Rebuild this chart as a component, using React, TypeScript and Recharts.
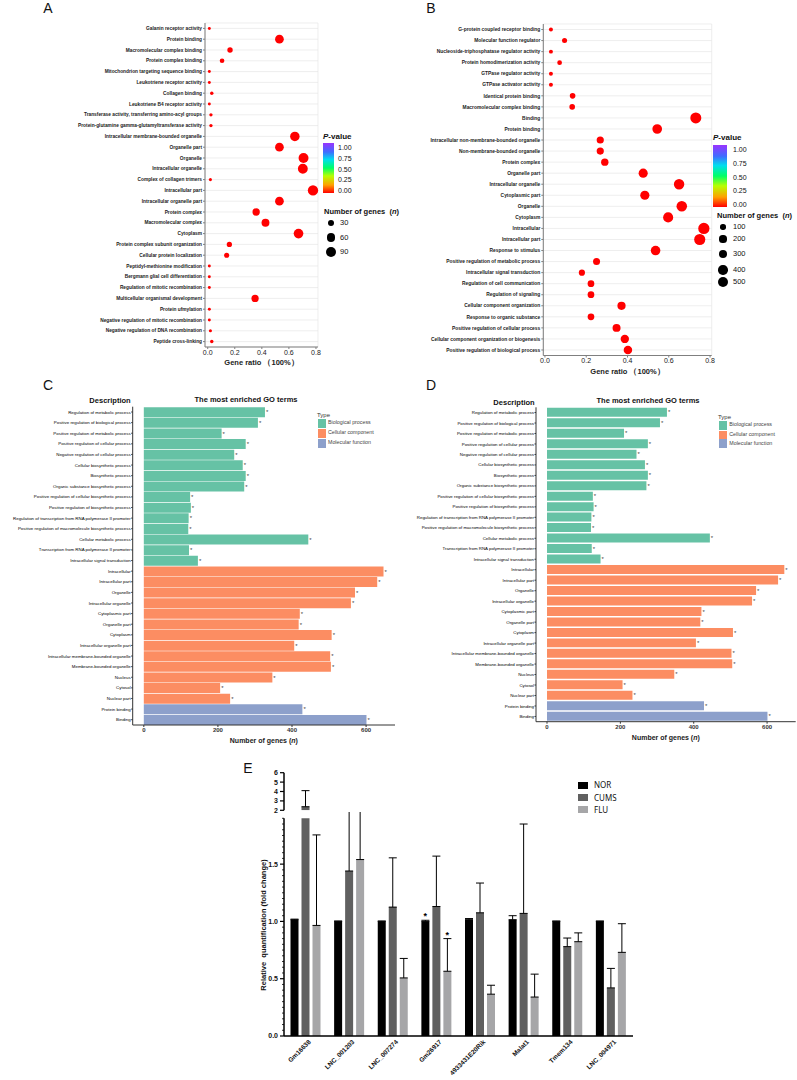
import React from 'react';
import {
  ScatterChart, Scatter, BarChart, Bar, XAxis, YAxis, ZAxis, CartesianGrid, Cell, LabelList, ErrorBar,
} from 'recharts';

const FONT = '"Liberation Sans", Arial, Helvetica, sans-serif';

// ---- Panel A: GO enrichment dot plot ----
const termsA = [
  'Galanin receptor activity',
  'Protein binding',
  'Macromolecular complex binding',
  'Protein complex binding',
  'Mitochondrion targeting sequence binding',
  'Leukotriene receptor activity',
  'Collagen binding',
  'Leukotriene B4 receptor activity',
  'Transferase activity, transferring amino-acyl groups',
  'Protein-glutamine gamma-glutamyltransferase activity',
  'Intracellular membrane-bounded organelle',
  'Organelle part',
  'Organelle',
  'Intracellular organelle',
  'Complex of collagen trimers',
  'Intracellular part',
  'Intracellular organelle part',
  'Protein complex',
  'Macromolecular complex',
  'Cytoplasm',
  'Protein complex subunit organization',
  'Cellular protein localization',
  'Peptidyl-methionine modification',
  'Bergmann glial cell differentiation',
  'Regulation of mitotic recombination',
  'Multicellular organismal development',
  'Protein ufmylation',
  'Negative regulation of mitotic recombination',
  'Negative regulation of DNA recombination',
  'Peptide cross-linking',
];
const ratioA = [0.012, 0.53, 0.165, 0.106, 0.012, 0.012, 0.03, 0.012, 0.024, 0.024, 0.644, 0.53, 0.708, 0.703, 0.02,
  0.778, 0.53, 0.358, 0.427, 0.671, 0.16, 0.14, 0.012, 0.012, 0.012, 0.35, 0.012, 0.012, 0.02, 0.03];
const genesA = [1, 64, 20, 13, 1, 1, 4, 1, 3, 3, 77, 64, 85, 84, 2, 93, 64, 43, 51, 80, 19, 17, 1, 1, 1, 42, 1, 1, 2, 4];
const sizeLegendA = [30, 60, 90];

// ---- Panel B ----
const termsB = [
  'G-protein coupled receptor binding',
  'Molecular function regulator',
  'Nucleoside-triphosphatase regulator activity',
  'Protein homodimerization activity',
  'GTPase regulator activity',
  'GTPase activator activity',
  'Identical protein binding',
  'Macromolecular complex binding',
  'Binding',
  'Protein binding',
  'Intracellular non-membrane-bounded organelle',
  'Non-membrane-bounded organelle',
  'Protein complex',
  'Organelle part',
  'Intracellular organelle',
  'Cytoplasmic part',
  'Organelle',
  'Cytoplasm',
  'Intracellular',
  'Intracellular part',
  'Response to stimulus',
  'Positive regulation of metabolic process',
  'Intracellular signal transduction',
  'Regulation of cell communication',
  'Regulation of signaling',
  'Cellular component organization',
  'Response to organic substance',
  'Positive regulation of cellular process',
  'Cellular component organization or biogenesis',
  'Positive regulation of biological process',
];
const ratioB = [0.029, 0.095, 0.029, 0.071, 0.029, 0.029, 0.134, 0.132, 0.731, 0.544, 0.268, 0.268, 0.29, 0.476, 0.65,
  0.484, 0.663, 0.597, 0.77, 0.75, 0.536, 0.25, 0.179, 0.223, 0.223, 0.371, 0.223, 0.347, 0.387, 0.402];
const genesB = [24, 78, 24, 59, 24, 24, 111, 109, 603, 449, 221, 221, 239, 393, 536, 399, 547, 493, 635, 619, 442, 206,
  148, 184, 184, 306, 184, 286, 319, 332];
const sizeLegendB = [100, 200, 300, 400, 500];

const ratioTicks = [0, 0.2, 0.4, 0.6, 0.8];
const ratioGrid = [0, 0.1, 0.2, 0.3, 0.4, 0.5, 0.6, 0.7, 0.8];
const pTicks = [1.0, 0.75, 0.5, 0.25, 0.0];

// ---- Panels C / D: most enriched GO terms ----
const goTerms = [
  'Regulation of metabolic process',
  'Positive regulation of biological process',
  'Positive regulation of metabolic process',
  'Positive regulation of cellular process',
  'Negative regulation of cellular process',
  'Cellular biosynthetic process',
  'Biosynthetic process',
  'Organic substance biosynthetic process',
  'Positive regulation of cellular biosynthetic process',
  'Positive regulation of biosynthetic process',
  'Regulation of transcription from RNA polymerase II promoter',
  'Positive regulation of macromolecule biosynthetic process',
  'Cellular metabolic process',
  'Transcription from RNA polymerase II promoter',
  'Intracellular signal transduction',
  'Intracellular',
  'Intracellular part',
  'Organelle',
  'Intracellular organelle',
  'Cytoplasmic part',
  'Organelle part',
  'Cytoplasm',
  'Intracellular organelle part',
  'Intracellular membrane-bounded organelle',
  'Membrane-bounded organelle',
  'Nucleus',
  'Cytosol',
  'Nuclear part',
  'Protein binding',
  'Binding',
];
const goTypes = ['BP', 'BP', 'BP', 'BP', 'BP', 'BP', 'BP', 'BP', 'BP', 'BP', 'BP', 'BP', 'BP', 'BP', 'BP',
  'CC', 'CC', 'CC', 'CC', 'CC', 'CC', 'CC', 'CC', 'CC', 'CC', 'CC', 'CC', 'CC', 'MF', 'MF'];
const goCounts = [327, 308, 210, 275, 244, 267, 275, 271, 125, 127, 121, 120, 444, 122, 146,
  647, 630, 570, 559, 421, 418, 507, 406, 503, 505, 347, 206, 233, 428, 601];
const typeNames = ['Biological process', 'Cellular component', 'Molecular function'];
const typeKeys = ['BP', 'CC', 'MF'];
const typeColors: Record<string, string> = { BP: '#66c2a5', CC: '#fc8d62', MF: '#8da0cb' };
const countTicks = [0, 200, 400, 600];

// ---- Panel E: qPCR ----
const genesE = ['Gm16638', 'LNC_001203', 'LNC_007274', 'Gm26917', '4933431E20Rik', 'Malat1', 'Tmem134', 'LNC_004971'];
const norMean = [1.015, 1.0, 1.0, 1.0, 1.015, 1.015, 1.0, 1.0];
const norErr = [0.005, 0.004, 0.004, 0.01, 0.01, 0.035, 0.004, 0.004];
const cumsMean = [2.38, 1.44, 1.125, 1.13, 1.075, 1.07, 0.78, 0.42];
const cumsErr = [1.71, 0.66, 0.43, 0.44, 0.26, 0.78, 0.075, 0.17];
const fluMean = [0.965, 1.54, 0.507, 0.565, 0.365, 0.34, 0.823, 0.73];
const fluErr = [0.79, 0.74, 0.17, 0.285, 0.078, 0.2, 0.077, 0.25];
const norSig = ['', '', '', '*', '', '', '', ''];
const fluSig = ['', '', '', '*', '', '', '', ''];
const groupNames = ['NOR', 'CUMS', 'FLU'];
const groupColors = ['#000000', '#606060', '#a6a6a8'];
const lowerMajor = [0, 0.5, 1.0, 1.5];
const upperTicks = [2, 3, 4, 5, 6];
const AXIS_BREAK = 2;

const dataA = termsA.map((term, i) => ({ term, ratio: ratioA[i], n: genesA[i] }));
const dataB = termsB.map((term, i) => ({ term, ratio: ratioB[i], n: genesB[i] }));
const goData = goTerms.map((term, i) => ({ term, type: goTypes[i], count: goCounts[i] }));
const dataE = genesE.map((gene, i) => ({
  gene,
  nor: norMean[i], norErr: [0, norErr[i]],
  cums: cumsMean[i], cumsErr: [0, cumsErr[i]],
  flu: fluMean[i], fluErr: [0, fluErr[i]],
}));

// part of each bar / error bar that rises above the axis break (upper segment)
const upperPart = (m: number, e: number) => {
  if (m + e < AXIS_BREAK) return { v: null, e: null };
  if (m >= AXIS_BREAK) return { v: m, e: [0, e] };
  return { v: AXIS_BREAK, e: [0, m + e - AXIS_BREAK] };
};
const dataEUpper = genesE.map((gene, i) => {
  const n = upperPart(norMean[i], norErr[i]);
  const c = upperPart(cumsMean[i], cumsErr[i]);
  const f = upperPart(fluMean[i], fluErr[i]);
  return { gene, nor: n.v, norErr: n.e, cums: c.v, cumsErr: c.e, flu: f.v, fluErr: f.e };
});

const lowerTicks: number[] = [];
for (let i = 0; i <= 38; i++) lowerTicks.push(Math.round(i * 5) / 100);

const zA = { domain: [0, 100], range: [6, 90] };
const zB = { domain: [0, 600], range: [9, 100] };
const dotD = (n: number, z: { domain: number[]; range: number[] }) => {
  const area = z.range[0] + ((n - z.domain[0]) / (z.domain[1] - z.domain[0])) * (z.range[1] - z.range[0]);
  return 2 * Math.sqrt(area / Math.PI);
};

const Txt = ({ x, y, size, bold = false, anchor = 'middle', color = '#111', family = FONT, children }: any) => {
  const tx = anchor === 'middle' ? '-50%' : anchor === 'end' ? '-100%' : '0';
  return (
    <div style={{
      position: 'absolute', left: x, top: y, transform: `translate(${tx}, -50%)`, fontSize: size,
      fontWeight: bold ? 'bold' : 'normal', whiteSpace: 'pre', fontFamily: family, lineHeight: 1, color,
    }}>{children}</div>
  );
};

const termTick = (size: number, weight: string, fill: string) => (props: any) => {
  const { x, y, payload } = props;
  return (
    <text x={x} y={y} dy={size * 0.35} textAnchor="end" fontSize={size} fontWeight={weight} fill={fill} fontFamily={FONT}>
      {payload.value}
    </text>
  );
};

// axis title drawn at a fixed baseline below the axis line
const axisTitle = (text: string, italic: string, tail: string, size: number, base: number) => (props: any) => {
  const { x, y, width } = props.viewBox;
  return (
    <text x={x + width / 2} y={y + base} textAnchor="middle" fontSize={size} fontWeight="bold" fill="#222" fontFamily={FONT}>
      {text}<tspan fontStyle="italic">{italic}</tspan>{tail}
    </text>
  );
};

const GRAY = '#7f7f7f';

function DotPanel({ data, width, height, margin, yWidth, domain, z, labelSize, titleBase }: any) {
  return (
    <ScatterChart width={width} height={height} margin={margin}>
      <CartesianGrid xAxisId="minor" stroke="#e6e6e6" strokeWidth={0.7} />
      <XAxis xAxisId="minor" type="number" dataKey="ratio" domain={domain} ticks={ratioGrid} hide />
      <XAxis xAxisId="top" orientation="top" type="number" dataKey="ratio" domain={domain} height={0}
        tick={false} tickLine={false} axisLine={{ stroke: GRAY }} />
      <XAxis type="number" dataKey="ratio" domain={domain} ticks={ratioTicks} tickFormatter={(v: number) => v.toFixed(1)}
        height={24} axisLine={{ stroke: GRAY }} tickLine={{ stroke: GRAY }}
        tickSize={2} tickMargin={1} tick={{ fontSize: 7, fill: '#222', fontFamily: FONT }}
        label={axisTitle('Gene ratio （100%）', '', '', 7.5, titleBase)} />
      <YAxis type="category" dataKey="term" reversed interval={0} width={yWidth} axisLine={{ stroke: GRAY }}
        tickLine={{ stroke: GRAY }} tickSize={2} tickMargin={1} tick={termTick(labelSize, 'bold', '#1a1a1a')} />
      <YAxis yAxisId="right" orientation="right" type="number" domain={[0, 1]} width={0} tick={false}
        tickLine={false} axisLine={{ stroke: GRAY }} />
      <ZAxis type="number" dataKey="n" domain={z.domain} range={z.range} />
      <Scatter data={data} fill="#ff0000" isAnimationActive={false} />
    </ScatterChart>
  );
}

function GoBarPanel({ width, height, margin, yWidth }: any) {
  return (
    <BarChart layout="vertical" width={width} height={height} data={goData} margin={margin} barCategoryGap="5%">
      <XAxis type="number" domain={[-30, 678]} ticks={countTicks} height={24} axisLine={{ stroke: '#333' }}
        tickLine={{ stroke: '#333' }} tickSize={2} tickMargin={1}
        tick={{ fontSize: 6, fill: '#333', fontWeight: 'bold', fontFamily: FONT }}
        label={axisTitle('Number of genes (', 'n', ')', 7, 18)} />
      <XAxis xAxisId="top" orientation="top" type="number" domain={[-30, 678]} height={0} tick={false}
        tickLine={false} axisLine={{ stroke: '#333' }} />
      <YAxis type="category" dataKey="term" interval={0} width={yWidth} axisLine={{ stroke: '#333' }}
        tickLine={{ stroke: '#333' }} tickSize={1.5} tickMargin={0.5} tick={termTick(4.4, 'normal', '#000')} />
      <YAxis yAxisId="right" orientation="right" type="number" domain={[0, 1]} width={0} tick={false}
        tickLine={false} axisLine={{ stroke: '#333' }} />
      <Bar dataKey="count" isAnimationActive={false}>
        {goData.map((d) => <Cell key={d.term} fill={typeColors[d.type]} />)}
        <LabelList dataKey="count" position="right" offset={1} formatter={() => '*'} fontSize={6} fill="#444" />
      </Bar>
    </BarChart>
  );
}

function PLegend({ x, y, barTop, barBottom, barW, labelTop, labelBottom, labelX }: any) {
  return (
    <>
      <Txt x={x} y={y} size={8} bold anchor="start"><i>P</i>-value</Txt>
      <div style={{
        position: 'absolute', left: x, top: barTop, width: barW, height: barBottom - barTop,
        background: 'linear-gradient(to bottom, #9933ff 0%, #3f6cff 18%, #00ddee 33%, #00ff66 50%, #b8ff00 66%, #ffa000 84%, #ff0000 100%)',
      }} />
      {pTicks.map((v) => (
        <Txt key={v} x={labelX} y={labelTop + (1 - v) * (labelBottom - labelTop)} size={7} anchor="start">{v.toFixed(2)}</Txt>
      ))}
    </>
  );
}

function SizeLegend({ x, y, values, ys, dotX, labelX, z }: any) {
  return (
    <>
      <Txt x={x} y={y} size={7.5} bold anchor="start">Number of genes  (<i>n</i>)</Txt>
      {values.map((v: number, i: number) => {
        const d = dotD(v, z);
        return (
          <React.Fragment key={v}>
            <div style={{ position: 'absolute', left: dotX - d / 2, top: ys[i] - d / 2, width: d, height: d, borderRadius: '50%', background: '#000' }} />
            <Txt x={labelX} y={ys[i]} size={7.5} anchor="start">{v}</Txt>
          </React.Fragment>
        );
      })}
    </>
  );
}

function TypeLegend({ x, y, ys, labelX }: any) {
  return (
    <>
      <Txt x={x} y={y} size={6} anchor="start" color="#333">Type</Txt>
      {typeKeys.map((k, i) => (
        <React.Fragment key={k}>
          <div style={{ position: 'absolute', left: x + 1, top: ys[i] - 4.5, width: 7.5, height: 9, background: typeColors[k] }} />
          <Txt x={labelX} y={ys[i]} size={5.3} anchor="start" color="#444">{typeNames[i]}</Txt>
        </React.Fragment>
      ))}
    </>
  );
}

const lowerTick = (props: any) => {
  const { x, y, payload } = props;
  const v = payload.value;
  const major = lowerMajor.some((m) => Math.abs(m - v) < 1e-6);
  return (
    <g>
      <line x1={x - (major ? 4 : 2)} x2={x} y1={y} y2={y} stroke="#000" strokeWidth={major ? 1.2 : 0.8} />
      {major && (
        <text x={x - 6} y={y} dy={2.4} textAnchor="end" fontSize={7} fontWeight="bold" fontFamily={FONT} fill="#111">
          {v.toFixed(1)}
        </text>
      )}
    </g>
  );
};

const upperTick = (props: any) => {
  const { x, y, payload } = props;
  return (
    <g>
      <line x1={x - 4} x2={x} y1={y} y2={y} stroke="#000" strokeWidth={1.2} />
      <text x={x - 6} y={y} dy={2.4} textAnchor="end" fontSize={7} fontWeight="bold" fontFamily={FONT} fill="#111">
        {payload.value}
      </text>
    </g>
  );
};

const geneTick = (props: any) => {
  const { x, y, payload } = props;
  const ax = x + 4;
  const ay = y + 3;
  return (
    <text x={ax} y={ay} dy={2} transform={`rotate(-45 ${ax} ${ay})`} textAnchor="end" fontSize={6.5}
      fontWeight="bold" fontFamily={FONT} fill="#111">
      {payload.value}
    </text>
  );
};

const starLabel = (errs: number[], sig: string[]) => (props: any) => {
  const { index, value } = props;
  if (!sig[index]) return null;
  const vb = props.viewBox || props;
  const { x, y, width, height } = vb;
  const errPx = value ? (errs[index] / value) * height : 0;
  return (
    <text x={x + width / 2} y={y - errPx - 1} textAnchor="middle" fontSize={9} fontWeight="bold" fontFamily={FONT} fill="#000">
      {sig[index]}
    </text>
  );
};

const E_MARGIN_RIGHT = 27;
const E_WIDTH = 660;

export default function App() {
  return (
    <div style={{ position: 'absolute', left: 0, top: 0, width: 797, height: 1080, background: '#fff', fontFamily: FONT, overflow: 'hidden' }}>
      {/* Panel A */}
      <Txt x={48} y={8} size={14} anchor="middle">A</Txt>
      <div style={{ position: 'absolute', left: 0, top: 0 }}>
        <DotPanel data={dataA} width={400} height={371} margin={{ top: 23, right: 82, bottom: 0, left: 0 }}
          yWidth={205} domain={[-0.02, 0.815]} z={zA} labelSize={4.8} titleBase={18} />
      </div>
      <PLegend x={323} y={137} barTop={143} barBottom={193} barW={11} labelTop={147} labelBottom={190} labelX={338} />
      <SizeLegend x={324} y={212} values={sizeLegendA} ys={[223, 237.5, 252]} dotX={331} labelX={340} z={zA} />

      {/* Panel B */}
      <Txt x={431} y={8} size={14} anchor="middle">B</Txt>
      <div style={{ position: 'absolute', left: 400, top: 0 }}>
        <DotPanel data={dataB} width={397} height={379.5} margin={{ top: 24, right: 85.3, bottom: 0, left: 0 }}
          yWidth={143.3} domain={[-0.008, 0.808]} z={zB} labelSize={4.9} titleBase={18.5} />
      </div>
      <PLegend x={713} y={138} barTop={145} barBottom={207} barW={14} labelTop={149} labelBottom={204} labelX={733} />
      <SizeLegend x={717} y={216} values={sizeLegendB} ys={[227, 239, 254, 270, 282]} dotX={723} labelX={733} z={zB} />

      {/* Panel C */}
      <Txt x={48} y={385} size={14} anchor="middle">C</Txt>
      <Txt x={110} y={401} size={7.5} bold>Description</Txt>
      <Txt x={246} y={400} size={7.5} bold>The most enriched GO terms</Txt>
      <div style={{ position: 'absolute', left: 0, top: 380 }}>
        <GoBarPanel width={400} height={369} margin={{ top: 26.7, right: 5, bottom: 0, left: 0 }} yWidth={132.7} />
      </div>
      <TypeLegend x={317} y={415} ys={[423.3, 433.3, 443]} labelX={328} />

      {/* Panel D */}
      <Txt x={431} y={385} size={14} anchor="middle">D</Txt>
      <Txt x={514} y={403} size={7.5} bold>Description</Txt>
      <Txt x={648} y={401} size={7.5} bold>The most enriched GO terms</Txt>
      <div style={{ position: 'absolute', left: 400, top: 380 }}>
        <GoBarPanel width={397} height={365.7} margin={{ top: 27.3, right: 1.3, bottom: 0, left: 0 }} yWidth={136} />
      </div>
      <TypeLegend x={718} y={416.7} ys={[425, 435, 443.5]} labelX={729.3} />

      {/* Panel E */}
      <Txt x={248} y={768} size={14} anchor="middle">E</Txt>
      <div style={{
        position: 'absolute', left: 264, top: 925, transform: 'translate(-50%, -50%) rotate(-90deg)',
        whiteSpace: 'pre', fontSize: 7.5, fontWeight: 'bold', fontFamily: FONT, color: '#111', lineHeight: 1,
      }}>Relative  quantification (fold change)</div>
      <div style={{ position: 'absolute', left: 0, top: 765 }}>
        <BarChart width={E_WIDTH} height={51} data={dataEUpper} margin={{ top: 7.7, right: E_MARGIN_RIGHT, bottom: 5.7, left: 0 }}
          barCategoryGap={6.5} barGap={3}>
          <XAxis dataKey="gene" hide />
          <YAxis type="number" domain={[AXIS_BREAK, 6]} allowDataOverflow ticks={upperTicks} width={284} interval={0}
            axisLine={{ stroke: '#000', strokeWidth: 1.5 }} tickLine={false} tickSize={0} tickMargin={0} tick={upperTick} />
          <Bar dataKey="nor" fill={groupColors[0]} isAnimationActive={false}>
            <ErrorBar dataKey="norErr" width={4} stroke="#000" strokeWidth={1} />
          </Bar>
          <Bar dataKey="cums" fill={groupColors[1]} isAnimationActive={false}>
            <ErrorBar dataKey="cumsErr" width={4} stroke="#000" strokeWidth={1} />
          </Bar>
          <Bar dataKey="flu" fill={groupColors[2]} isAnimationActive={false}>
            <ErrorBar dataKey="fluErr" width={4} stroke="#000" strokeWidth={1} />
          </Bar>
        </BarChart>
      </div>
      <div style={{ position: 'absolute', left: 0, top: 812 }}>
        <BarChart width={E_WIDTH} height={268} data={dataE} margin={{ top: 6.3, right: E_MARGIN_RIGHT, bottom: 0, left: 0 }}
          barCategoryGap={6.5} barGap={3}>
          <XAxis dataKey="gene" interval={0} height={44} axisLine={{ stroke: '#000', strokeWidth: 1.5 }} tickLine={false}
            tickSize={0} tickMargin={2} tick={geneTick} />
          <YAxis type="number" domain={[0, 1.9]} allowDataOverflow ticks={lowerTicks} interval={0} width={284}
            axisLine={{ stroke: '#000', strokeWidth: 1.5 }} tickLine={false} tickSize={0} tickMargin={0} tick={lowerTick} />
          <Bar dataKey="nor" fill={groupColors[0]} isAnimationActive={false}>
            <ErrorBar dataKey="norErr" width={4} stroke="#000" strokeWidth={1} />
            <LabelList dataKey="nor" content={starLabel(norErr, norSig)} />
          </Bar>
          <Bar dataKey="cums" fill={groupColors[1]} isAnimationActive={false}>
            <ErrorBar dataKey="cumsErr" width={4} stroke="#000" strokeWidth={1} />
          </Bar>
          <Bar dataKey="flu" fill={groupColors[2]} isAnimationActive={false}>
            <ErrorBar dataKey="fluErr" width={4} stroke="#000" strokeWidth={1} />
            <LabelList dataKey="flu" content={starLabel(fluErr, fluSig)} />
          </Bar>
        </BarChart>
      </div>
      {groupNames.map((g, i) => (
        <React.Fragment key={g}>
          <div style={{ position: 'absolute', left: 578, top: [785, 797.7, 809.7][i] - 3.5, width: 10, height: 7, background: groupColors[i] }} />
          <Txt x={594} y={[785, 797.7, 809.7][i]} size={8} anchor="start" family='"Noto Sans", sans-serif'>{g}</Txt>
        </React.Fragment>
      ))}
    </div>
  );
}
